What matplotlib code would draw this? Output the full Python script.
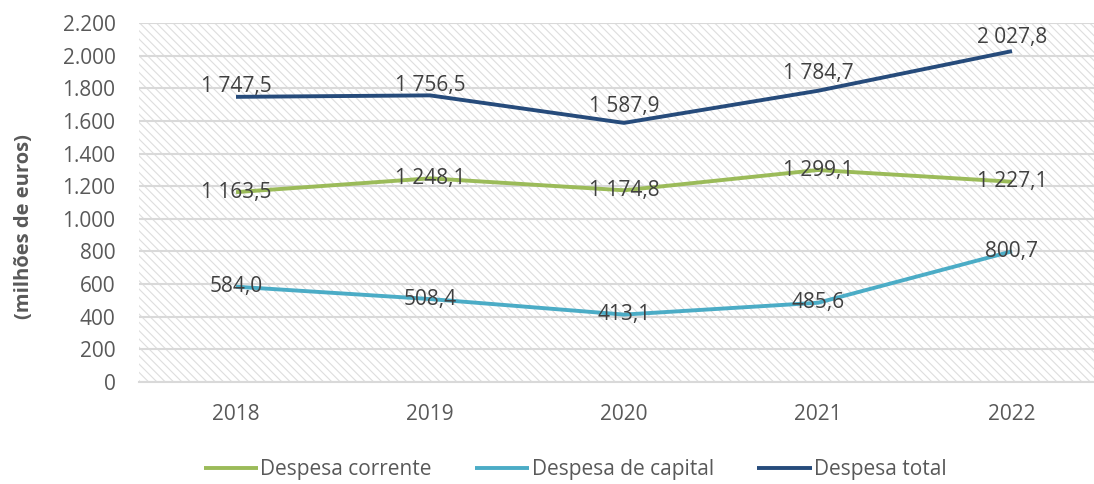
import matplotlib
matplotlib.use("Agg")
import matplotlib.pyplot as plt
import numpy as np

years = ["2018", "2019", "2020", "2021", "2022"]
despesa_corrente = [1163.5, 1248.1, 1174.8, 1299.1, 1227.1]
despesa_capital = [584.0, 508.4, 413.1, 485.6, 800.7]
despesa_total = [1747.5, 1756.5, 1587.9, 1784.7, 2027.8]
series_names = ["Despesa corrente", "Despesa de capital", "Despesa total"]
yticks = [0, 200, 400, 600, 800, 1000, 1200, 1400, 1600, 1800, 2000, 2200]

colors = ["#9BBB59", "#4BACC6", "#264B7B"]
total_label_dy = [10, 10, 16, 17, 14]  # pixels above the point

plt.rcParams['font.family'] = ['Open Sans', 'DejaVu Sans']
plt.rcParams['hatch.linewidth'] = 0.8

fig = plt.figure(figsize=(10.94, 4.84), dpi=100)
W, H = 1094, 484
left, right, top, bottom = 139, 1109, 23, 382
ax = fig.add_axes([left / W, 1 - bottom / H, (right - left) / W, (bottom - top) / H])

bg = plt.Rectangle((0, 0), 1, 1, transform=ax.transAxes, facecolor='white',
                   edgecolor='#dedede', linewidth=0, hatch='\\\\\\\\', zorder=0)
ax.add_patch(bg)
x = np.arange(len(years))
ax.set_xlim(-0.5, len(years) - 0.5)
ax.set_ylim(0, 2200)
ax.set_yticks(yticks)
ax.set_yticklabels([f"{v:,}".replace(",", ".") for v in yticks])
ax.set_xticks(x)
ax.set_xticklabels(years)
ax.yaxis.grid(True, color='#d9d9d9', linewidth=1.5, zorder=1)
ax.set_axisbelow(True)
for s in ['top', 'right', 'left']:
    ax.spines[s].set_visible(False)
ax.spines['bottom'].set_color('#d9d9d9')
ax.spines['bottom'].set_linewidth(1.5)
ax.tick_params(axis='both', length=0, labelsize=15, colors='#595959')
ax.tick_params(axis='x', pad=16)
ax.tick_params(axis='y', pad=17)
ax.set_ylabel("(milhões de euros)", fontsize=14.5, fontweight='bold', color='#595959')
ax.yaxis.set_label_coords((34 - left) / (right - left), (bottom - 227) / (bottom - top))

data = [despesa_corrente, despesa_capital, despesa_total]
lines = []
for vals, c, name in zip(data, colors, series_names):
    ln, = ax.plot(x, vals, color=c, linewidth=2.8, solid_capstyle='butt', zorder=3, label=name)
    lines.append(ln)

def fmt(v):
    s = f"{v:,.1f}"
    return s.replace(",", " ").replace(".", ",")

for vals in (despesa_corrente, despesa_capital):
    for xi, v in zip(x, vals):
        ax.annotate(fmt(v), (xi, v), ha='center', va='center', fontsize=15,
                    color='#404040', zorder=4)
for xi, v, dy in zip(x, despesa_total, total_label_dy):
    ax.annotate(fmt(v), (xi, v), xytext=(0, dy * 0.72), textcoords='offset points',
                ha='center', va='center', fontsize=15, color='#404040', zorder=4)

fig.legend(handles=lines, loc='center', bbox_to_anchor=(575 / W, 1 - 470 / H), ncol=3,
           frameon=False, fontsize=15, handlelength=2.6, handletextpad=0.1,
           columnspacing=2.1, labelcolor='#595959')

fig.savefig("out.png", dpi=100)
